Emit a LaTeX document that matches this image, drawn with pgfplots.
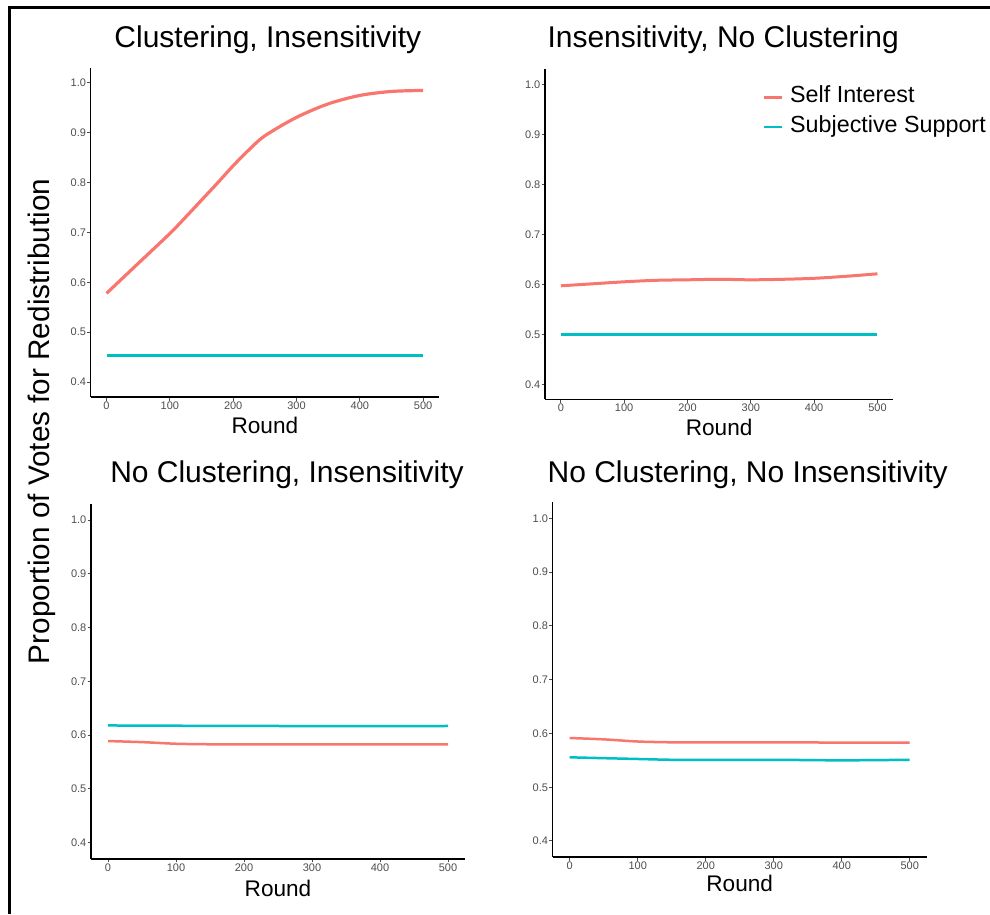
\documentclass[border=0pt]{standalone}
\usepackage{fontspec}
\setmainfont{Liberation Sans}
\usepackage{pgfplots}
\pgfplotsset{compat=1.18}

\definecolor{siRed}{HTML}{F8766D}
\definecolor{ssCyan}{HTML}{00BFC4}
\definecolor{tickGrey}{HTML}{4D4D4D}

\pgfplotsset{
  panel/.style={
    scale only axis,
    anchor=south west,
    xmin=-25, xmax=525, ymin=0.37, ymax=1.03,
    axis x line*=bottom, axis y line*=left,
    axis line style={-, line width=1.5pt, black},
    xtick={0,100,200,300,400,500},
    ytick={0.4,0.5,0.6,0.7,0.8,0.9,1.0},
    /pgf/number format/assume math mode=true,
    yticklabel={\pgfmathprintnumber[fixed,fixed zerofill,precision=1,assume math mode=true]{\tick}},
    tick align=outside,
    major tick length=3.5pt,
    tick style={tickGrey, line width=1pt},
    ticklabel style={font=\fontsize{11}{13}\selectfont, text=tickGrey},
    yticklabel style={inner sep=1pt},
    xticklabel style={inner sep=1pt},
    every axis title shift=0pt,
    title style={at={(axis description cs:0.5,1)}, anchor=base, font=\fontsize{30}{36}\selectfont},
    xlabel style={at={(axis description cs:0.5,0)}, anchor=base, font=\fontsize{22.6}{27}\selectfont},
    xlabel={Round},
  },
  si/.style={siRed, line width=2.5pt, smooth},
  ss/.style={ssCyan, line width=2.5pt, smooth},
}

\begin{document}
\begin{tikzpicture}[x=1pt,y=1pt]
\path[use as bounding box] (0,0) rectangle (990,-914);
\draw[line width=3pt, line join=miter] (9,-914) -- (9,-7) -- (990,-7);

% Panel 1
\begin{axis}[panel, at={(90.7pt,-397pt)}, width=348.3pt, height=329pt,
  title={Clustering, Insensitivity},
  title style={yshift=21pt, xshift=3pt},
  xlabel style={yshift=-36.3pt}]
\addplot[si, line width=3.2pt] coordinates {
 (0,0.578) (50,0.638) (100,0.698) (125,0.731) (150,0.765) (175,0.799)
 (200,0.834) (225,0.866) (250,0.894) (300,0.931) (350,0.958)
 (400,0.975) (450,0.983) (500,0.985)};
\addplot[ss] coordinates {(0,0.453) (250,0.453) (500,0.453)};
\end{axis}

% Panel 2
\begin{axis}[panel, at={(545pt,-399.3pt)}, width=348.3pt, height=330pt,
  title={Insensitivity, No Clustering},
  title style={yshift=22.3pt, xshift=4pt},
  xlabel style={yshift=-36.4pt},
  legend cell align=left,
  legend image code/.code={\draw[#1] (0pt,0pt) -- (18pt,0pt);},
  legend style={at={(axis description cs:0.623,0.951)}, anchor=north west,
    draw=none, fill=none, inner sep=0pt, row sep=7pt, column sep=7pt,
    font=\fontsize{23.3}{28}\selectfont,
    nodes={inner sep=0pt, text height=17pt, text depth=6pt}}]
\addplot[si, line width=3pt] coordinates {
 (0,0.597) (50,0.601) (100,0.605) (150,0.608) (200,0.609) (250,0.610)
 (300,0.609) (350,0.610) (400,0.612) (450,0.616) (500,0.621)};
\addlegendentry{Self Interest}
\addplot[ss] coordinates {(0,0.500) (250,0.500) (500,0.500)};
\addlegendentry{Subjective Support}
\end{axis}

% Panel 3
\begin{axis}[panel, at={(91pt,-858.8pt)}, width=374pt, height=354.9pt,
  title={No Clustering, Insensitivity},
  title style={yshift=21.6pt, xshift=9pt},
  xlabel style={yshift=-37.9pt}]
\addplot[si] coordinates {
 (0,0.589) (50,0.587) (100,0.584) (150,0.583) (200,0.583) (300,0.583)
 (400,0.583) (500,0.583)};
\addplot[ss] coordinates {(0,0.618) (100,0.6175) (250,0.617) (500,0.617)};
\end{axis}

% Panel 4
\begin{axis}[panel, at={(552.7pt,-857.1pt)}, width=374pt, height=354.9pt,
  title={No Clustering, No Insensitivity},
  title style={yshift=20.2pt, xshift=8pt},
  xlabel style={yshift=-34.6pt}]
\addplot[si] coordinates {
 (0,0.5915) (50,0.589) (100,0.585) (150,0.5835) (200,0.5835) (300,0.5835)
 (400,0.583) (500,0.583)};
\addplot[ss] coordinates {
 (0,0.5556) (50,0.554) (100,0.5525) (150,0.551) (200,0.551) (300,0.551)
 (400,0.550) (500,0.551)};
\end{axis}

\node[rotate=90, anchor=base, font=\fontsize{29.7}{35}\selectfont] at (49.3,-421.5) {Proportion of Votes for Redistribution};
\end{tikzpicture}
\end{document}
